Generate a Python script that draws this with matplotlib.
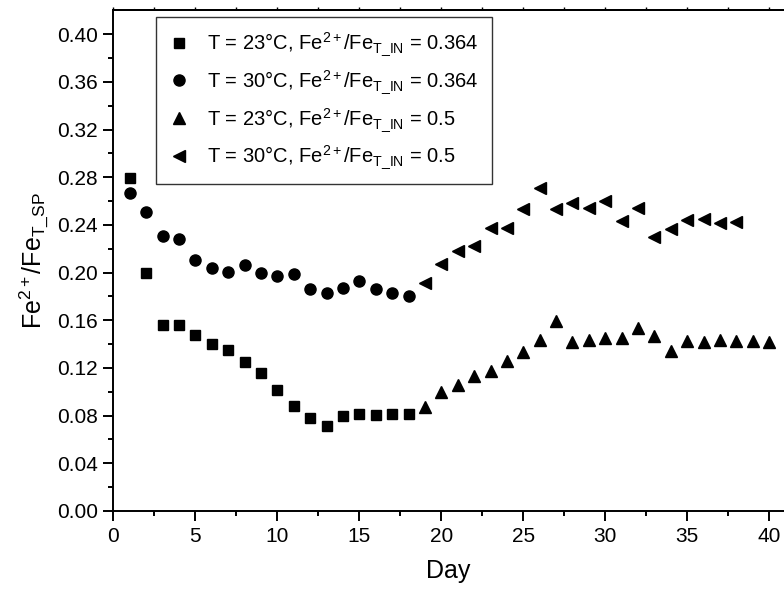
import matplotlib
matplotlib.use("Agg")
import matplotlib.pyplot as plt
import numpy as np

plt.rcParams['font.family'] = ['Liberation Sans', 'DejaVu Sans']
plt.rcParams['mathtext.fontset'] = 'custom'
plt.rcParams['mathtext.rm'] = 'Liberation Sans'
plt.rcParams['mathtext.it'] = 'Liberation Sans:italic'
plt.rcParams['mathtext.bf'] = 'Liberation Sans:bold'

# Data
days_sq = list(range(1, 19))
sq_vals = [0.279, 0.200, 0.156, 0.156, 0.148, 0.140, 0.135, 0.125, 0.116,
           0.1015, 0.088, 0.078, 0.071, 0.080, 0.081, 0.0805, 0.081, 0.081]
days_ci = list(range(1, 19))
ci_vals = [0.267, 0.2506, 0.2307, 0.228, 0.2106, 0.2036, 0.2008, 0.2064, 0.1994,
           0.1971, 0.1985, 0.186, 0.1826, 0.1868, 0.193, 0.186, 0.1832, 0.1804]
days_tri = list(range(19, 41))
tri_vals = [0.087, 0.100, 0.106, 0.1135, 0.1177, 0.126, 0.1337, 0.1435, 0.1594,
            0.142, 0.1435, 0.1449, 0.1449, 0.1532, 0.1471, 0.1345, 0.1426, 0.1415,
            0.1435, 0.1429, 0.1429, 0.142]
days_lt = list(range(19, 39))
lt_vals = [0.191, 0.2072, 0.2184, 0.2223, 0.2377, 0.2372, 0.2534, 0.2712, 0.2531,
           0.2581, 0.2539, 0.2601, 0.2433, 0.2539, 0.2301, 0.2363, 0.2441, 0.245,
           0.2414, 0.2422]

labels = [r'T = 23°C, Fe$^{2+}$/Fe$_{\mathrm{T\_IN}}$ = 0.364',
          r'T = 30°C, Fe$^{2+}$/Fe$_{\mathrm{T\_IN}}$ = 0.364',
          r'T = 23°C, Fe$^{2+}$/Fe$_{\mathrm{T\_IN}}$ = 0.5',
          r'T = 30°C, Fe$^{2+}$/Fe$_{\mathrm{T\_IN}}$ = 0.5']

xticks = [0, 5, 10, 15, 20, 25, 30, 35, 40]
yticks = [0.00, 0.04, 0.08, 0.12, 0.16, 0.20, 0.24, 0.28, 0.32, 0.36, 0.40]

W, H = 784, 590
fig = plt.figure(figsize=(W / 100, H / 100), dpi=100)
left, right, top, bottom = 113.3, 784, 10, 511
ax = fig.add_axes([left / W, 1 - bottom / H, (right - left) / W, (bottom - top) / H])

ax.plot(days_sq, sq_vals, 's', color='black', markersize=7.2, label=labels[0], linestyle='none')
ax.plot(days_ci, ci_vals, 'o', color='black', markersize=8.0, label=labels[1], linestyle='none')
ax.plot(days_tri, tri_vals, '^', color='black', markersize=8.6, label=labels[2], linestyle='none')
ax.plot(days_lt, lt_vals, '<', color='black', markersize=8.6, label=labels[3], linestyle='none')

ax.set_xlim(0, (right - left) / 16.4)
ax.set_ylim(0, 0.4203)
ax.set_xticks(xticks)
ax.set_yticks(yticks)
ax.set_yticklabels([f'{v:.2f}' for v in yticks])
ax.set_xticks(np.arange(2.5, 41, 5), minor=True)
ax.set_yticks(np.arange(0.02, 0.42, 0.04), minor=True)

for s in ['left', 'bottom', 'top']:
    ax.spines[s].set_linewidth(1.4)
ax.spines['right'].set_visible(False)

ax.tick_params(which='major', direction='out', length=7.2, width=1.4,
               labelsize=15, pad=4)
ax.tick_params(which='minor', direction='out', length=3.6, width=1.4)

sec = ax.secondary_xaxis('top')
sec.set_xticks(np.arange(0, 41, 2.5))
sec.tick_params(direction='out', length=2, width=1.0, labeltop=False)
sec.spines['top'].set_linewidth(1.4)

ax.set_xlabel('Day', fontsize=18, labelpad=10)
ax.set_ylabel(r'Fe$^{2+}$/Fe$_{\mathrm{T\_SP}}$', fontsize=18)
ax.yaxis.set_label_coords(-0.093, 0.5)

leg = ax.legend(loc='upper left', bbox_to_anchor=((156 - left) / (right - left), 1 - (17.3 - top) / (bottom - top)),
                prop={'size': 14.5}, frameon=True, fancybox=False, shadow=False,
                numpoints=1, handlelength=1.0, handletextpad=0.9,
                labelspacing=0.5, borderpad=0.65, borderaxespad=0)
leg.get_frame().set_edgecolor('black')
leg.get_frame().set_linewidth(1.0)

fig.savefig('out.png', dpi=100)
